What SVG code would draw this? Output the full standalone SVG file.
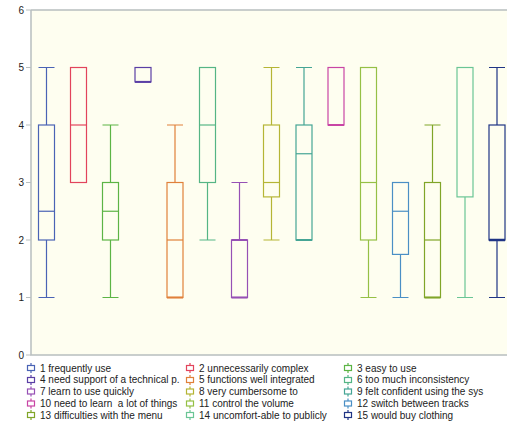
<svg xmlns="http://www.w3.org/2000/svg" width="507" height="425" viewBox="0 0 507 425">
<style>
text{font-family:"Liberation Sans",Arial,sans-serif;font-size:10px;fill:#222}
.ax{stroke:#b8bfbf;stroke-width:1.5;fill:none}
.tk{stroke:#b8bfbf;stroke-width:1}
.b{fill:none;stroke-width:1.2}
.c1{stroke:#4a63b5}.c2{stroke:#e2445c}.c3{stroke:#5cb445}.c4{stroke:#5a3fa5}.c5{stroke:#e0803a}
.c6{stroke:#55b585}.c7{stroke:#9650b5}.c8{stroke:#b5b535}.c9{stroke:#45a595}.c10{stroke:#c845a5}
.c11{stroke:#95c045}.c12{stroke:#4a8fc5}.c13{stroke:#80a528}.c14{stroke:#6ac595}.c15{stroke:#1f3485}
.lt text{font-size:10px}
</style>
<defs>
<g id="ico"><line x1="0" y1="-5" x2="0" y2="5"/><rect x="-3.5" y="-2.5" width="7" height="5" fill="#fff"/></g>
</defs>
<rect x="31" y="10" width="480" height="345" fill="#fefef0"/>
<g id="axes">
<path class="ax" d="M31 10 L31 355 L507 355 M31 10 L507 10"/>
<g class="tk">
<line x1="26" y1="10" x2="31" y2="10"/><line x1="26" y1="67.5" x2="31" y2="67.5"/><line x1="26" y1="125" x2="31" y2="125"/>
<line x1="26" y1="182.5" x2="31" y2="182.5"/><line x1="26" y1="240" x2="31" y2="240"/><line x1="26" y1="297.5" x2="31" y2="297.5"/><line x1="26" y1="355" x2="31" y2="355"/>
</g>
<g text-anchor="end">
<text x="24" y="13.5">6</text><text x="24" y="71">5</text><text x="24" y="128.5">4</text><text x="24" y="186">3</text>
<text x="24" y="243.5">2</text><text x="24" y="301">1</text><text x="24" y="358.5">0</text>
</g>
</g>
<g id="connectors" class="b">
<path class="c1" d="M46.5 67.5V125M46.5 240V297.5M38.5 67.5h16M38.5 297.5h16"/>
<path class="c3" d="M110.5 125V182.5M110.5 240V297.5M102.5 125h16M102.5 297.5h16"/>
<path class="c5" d="M175 125V182.5M167 125h16"/>
<path class="c6" d="M207.5 182.5V240M199.5 240h16"/>
<path class="c7" d="M239.5 182.5V240M231.5 182.5h16"/>
<path class="c8" d="M271.5 67.5V125M271.5 196.9V240M263.5 67.5h16M263.5 240h16"/>
<path class="c9" d="M304 67.5V125M296 67.5h16"/>
<path class="c11" d="M368.5 240V297.5M360.5 297.5h16"/>
<path class="c12" d="M400.5 254.4V297.5M392.5 297.5h16"/>
<path class="c13" d="M432.5 125V182.5M424.5 125h16"/>
<path class="c14" d="M465 196.9V297.5M457 297.5h16"/>
<path class="c15" d="M497 67.5V125M497 240V297.5M489 67.5h16M489 297.5h16"/>
</g>
<g id="box1" class="b c1"><rect x="38.5" y="125" width="16" height="115"/><line x1="38.5" y1="211.25" x2="54.5" y2="211.25"/></g>
<g id="box2" class="b c2"><rect x="70.5" y="67.5" width="16" height="115"/><line x1="70.5" y1="125" x2="86.5" y2="125"/></g>
<g id="box3" class="b c3"><rect x="102.5" y="182.5" width="16" height="57.5"/><line x1="102.5" y1="211.25" x2="118.5" y2="211.25"/></g>
<g id="box4" class="b c4"><rect x="135" y="67.5" width="16" height="14.4"/><line x1="135" y1="81.9" x2="151" y2="81.9" stroke-width="2"/></g>
<g id="box5" class="b c5"><rect x="167" y="182.5" width="16" height="115"/><line x1="167" y1="240" x2="183" y2="240"/><line x1="167" y1="297.5" x2="183" y2="297.5" stroke-width="2"/></g>
<g id="box6" class="b c6"><rect x="199.5" y="67.5" width="16" height="115"/><line x1="199.5" y1="125" x2="215.5" y2="125"/></g>
<g id="box7" class="b c7"><rect x="231.5" y="240" width="16" height="57.5"/><line x1="231.5" y1="240" x2="247.5" y2="240" stroke-width="2"/><line x1="231.5" y1="297.5" x2="247.5" y2="297.5" stroke-width="2"/></g>
<g id="box8" class="b c8"><rect x="263.5" y="125" width="16" height="71.9"/><line x1="263.5" y1="182.5" x2="279.5" y2="182.5"/></g>
<g id="box9" class="b c9"><rect x="296" y="125" width="16" height="115"/><line x1="296" y1="153.75" x2="312" y2="153.75"/><line x1="296" y1="240" x2="312" y2="240" stroke-width="2"/></g>
<g id="box10" class="b c10"><rect x="328" y="67.5" width="16" height="57.5"/><line x1="328" y1="125" x2="344" y2="125" stroke-width="2"/></g>
<g id="box11" class="b c11"><rect x="360.5" y="67.5" width="16" height="172.5"/><line x1="360.5" y1="182.5" x2="376.5" y2="182.5"/></g>
<g id="box12" class="b c12"><rect x="392.5" y="182.5" width="16" height="71.9"/><line x1="392.5" y1="211.25" x2="408.5" y2="211.25"/></g>
<g id="box13" class="b c13"><rect x="424.5" y="182.5" width="16" height="115"/><line x1="424.5" y1="240" x2="440.5" y2="240"/><line x1="424.5" y1="297.5" x2="440.5" y2="297.5" stroke-width="2"/></g>
<g id="box14" class="b c14"><rect x="457" y="67.5" width="16" height="129.4"/></g>
<g id="box15" class="b c15"><rect x="489" y="125" width="16" height="115"/><line x1="489" y1="240" x2="505" y2="240" stroke-width="2.5"/></g>
<g id="legend" class="lt">
<g class="b c1"><use href="#ico" x="31" y="368"/></g><text x="40" y="371.5">1 frequently use</text>
<g class="b c2"><use href="#ico" x="190" y="368"/></g><text x="199" y="371.5">2 unnecessarily complex</text>
<g class="b c3"><use href="#ico" x="348" y="368"/></g><text x="357" y="371.5">3 easy to use</text>
<g class="b c4"><use href="#ico" x="31" y="380"/></g><text x="40" y="383.3">4 need support of a technical p.</text>
<g class="b c5"><use href="#ico" x="190" y="380"/></g><text x="199" y="383.3">5 functions well integrated</text>
<g class="b c6"><use href="#ico" x="348" y="380"/></g><text x="357" y="383.3">6 too much inconsistency</text>
<g class="b c7"><use href="#ico" x="31" y="391.5"/></g><text x="40" y="395.1">7 learn to use quickly</text>
<g class="b c8"><use href="#ico" x="190" y="391.5"/></g><text x="199" y="395.1">8 very cumbersome to</text>
<g class="b c9"><use href="#ico" x="348" y="391.5"/></g><text x="357" y="395.1">9 felt confident using the sys</text>
<g class="b c10"><use href="#ico" x="31" y="403.5"/></g><text x="40" y="406.9" xml:space="preserve">10 need to learn  a lot of things</text>
<g class="b c11"><use href="#ico" x="190" y="403.5"/></g><text x="199" y="406.9">11 control the volume</text>
<g class="b c12"><use href="#ico" x="348" y="403.5"/></g><text x="357" y="406.9">12 switch between tracks</text>
<g class="b c13"><use href="#ico" x="31" y="415"/></g><text x="40" y="418.7">13 difficulties with the menu</text>
<g class="b c14"><use href="#ico" x="190" y="415"/></g><text x="199" y="418.7">14 uncomfort-able to publicly</text>
<g class="b c15"><use href="#ico" x="348" y="415"/></g><text x="357" y="418.7">15 would buy clothing</text>
</g>
</svg>
